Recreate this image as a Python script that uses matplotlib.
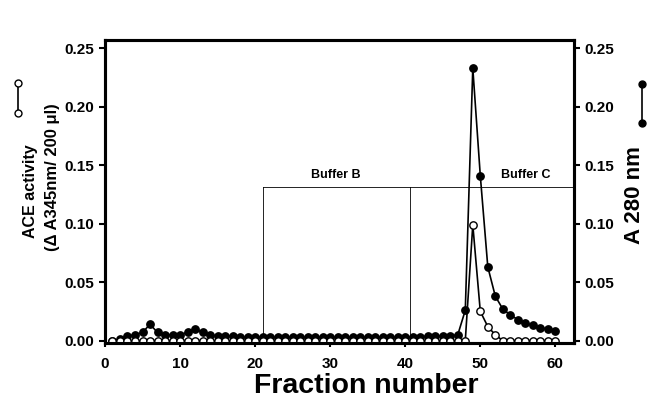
import matplotlib
matplotlib.use("Agg")
import matplotlib.pyplot as plt
from matplotlib.lines import Line2D

plt.rcParams['font.family'] = ['Liberation Sans', 'DejaVu Sans']

fractions = list(range(1, 61))
a280 = [0.000, 0.001, 0.004, 0.005, 0.007, 0.014, 0.007, 0.005, 0.005, 0.005,
        0.007, 0.010, 0.007, 0.005, 0.004, 0.004, 0.004, 0.003, 0.003, 0.003,
        0.003, 0.003, 0.003, 0.003, 0.003, 0.003, 0.003, 0.003, 0.003, 0.003,
        0.003, 0.003, 0.003, 0.003, 0.003, 0.003, 0.003, 0.003, 0.003, 0.003,
        0.003, 0.003, 0.004, 0.004, 0.004, 0.004, 0.005, 0.026, 0.233, 0.141,
        0.063, 0.038, 0.027, 0.022, 0.018, 0.015, 0.013, 0.011, 0.010, 0.008]
ace = [0.0] * 48 + [0.099, 0.025, 0.012, 0.005] + [0.0] * 8

buffer_labels = ["Buffer B", "Buffer C"]
buffer_starts = [21, 40.7]
buffer_level = 0.131

fig = plt.figure(figsize=(6.48, 4.0), dpi=100)
ax = fig.add_axes([0.162, 0.1425, 0.724, 0.7575])
ax2 = ax.twinx()

ax.plot(fractions, a280, '-o', color='black', mfc='black', mec='black',
        ms=5.3, lw=1.2, zorder=3)
ax.plot(fractions, ace, '-o', color='black', mfc='white', mec='black',
        ms=5.3, mew=1.0, lw=1.2, zorder=4)

# buffer step lines
ax.plot([buffer_starts[0], 62.5], [buffer_level, buffer_level], color='black', lw=0.6, zorder=1)
for xs in buffer_starts:
    ax.plot([xs, xs], [0, buffer_level], color='black', lw=0.6, zorder=1)
ax.text(30.7, 0.142, buffer_labels[0], ha='center', va='center', fontsize=9, fontweight='bold')
ax.text(56, 0.142, buffer_labels[1], ha='center', va='center', fontsize=9, fontweight='bold')

for a in (ax, ax2):
    a.set_xlim(0, 62.5)
    a.set_ylim(-0.002, 0.257)
    a.set_yticks([0, 0.05, 0.10, 0.15, 0.20, 0.25])
    a.set_yticklabels(['0.00', '0.05', '0.10', '0.15', '0.20', '0.25'])
    for s in a.spines.values():
        s.set_linewidth(2.2)
    a.tick_params(width=1.5, length=4, labelsize=11)
    for lbl in a.get_yticklabels():
        lbl.set_fontweight('bold')

ax.set_xticks([0, 10, 20, 30, 40, 50, 60])
for lbl in ax.get_xticklabels():
    lbl.set_fontweight('bold')
ax.tick_params(axis='x', length=3, pad=7)
fig.text(366 / 648, 1 - 393 / 400, 'Fraction number', ha='center', va='baseline',
         fontsize=20.5, fontweight='bold')

# left label
fig.text(31 / 648, 1 - 191 / 400, 'ACE activity', rotation=90, ha='center', va='center',
         fontsize=11.5, fontweight='bold')
fig.text(53 / 648, 1 - 177 / 400, '(\u0394 A345nm/ 200 \u03bcl)', rotation=90, ha='center',
         va='center', fontsize=12, fontweight='bold')
fig.add_artist(Line2D([18 / 648, 18 / 648], [1 - 83 / 400, 1 - 113 / 400], color='black',
                      lw=1.2, marker='o', mfc='white', mec='black', ms=5, transform=fig.transFigure))

# right label
fig.text(634 / 648, 1 - 195 / 400, 'A 280 nm', rotation=90, ha='center', va='center',
         fontsize=16, fontweight='bold')
fig.add_artist(Line2D([642 / 648, 642 / 648], [1 - 84 / 400, 1 - 123 / 400], color='black',
                      lw=1.2, marker='o', mfc='black', mec='black', ms=5, transform=fig.transFigure))

fig.savefig('out.png', dpi=100)
